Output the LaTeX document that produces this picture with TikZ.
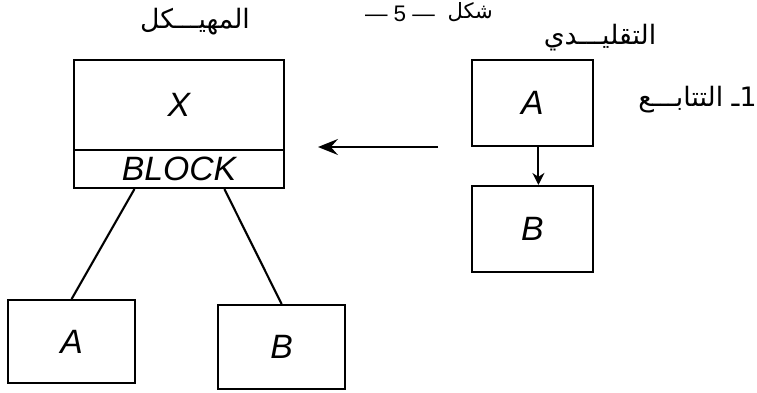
\documentclass[tikz,border=0pt]{standalone}
\usepackage{fontspec}
\setmainfont{Liberation Sans}
\newfontfamily\arabicfont[Script=Arabic]{DejaVu Sans}
\TeXXeTstate=1
\usetikzlibrary{arrows.meta,calc}

\tikzset{
    box/.style={draw, rectangle, line width=1.5pt, inner sep=0pt,
        font=\fontsize{24}{28}\selectfont\itshape},
    link/.style={line width=1.5pt},
    title/.style={font=\arabicfont\fontsize{19}{22}\selectfont, inner sep=0pt}
}

\begin{document}
\begin{tikzpicture}
    \useasboundingbox (0,0) rectangle (18.925,9.8);

    % Caption
    \node[inner sep=0pt, font=\fontsize{16}{18}\selectfont] (capnum) at (10.0,9.45) {— 5 —};
    \node[title, font=\arabicfont\fontsize{15}{17}\selectfont, anchor=west] (caption) at ([xshift=0.3cm, yshift=0.05cm]capnum.east) {\beginR شكل\endR};

    % Structured side
    \node[title] (structtitle) at (4.875,9.25) {\beginR المهيـــكل\endR};
    \node[box, minimum width=5.25cm, minimum height=2.25cm] (xbox) at (4.475,7.175) {X};
    \node[box, minimum width=5.25cm, minimum height=0.95cm, anchor=north] (block) at ([yshift=1.5pt]xbox.south) {BLOCK};

    \node[box, minimum width=3.175cm, minimum height=2.075cm] (childA) at (1.79,1.26) {A};
    \node[box, minimum width=3.175cm, minimum height=2.1cm] (childB) at (7.04,1.125) {B};

    % Connections from the block to its parts
    \draw[link] ($(block.south west)!0.29!(block.south east)$) -- (childA.north);
    \draw[link] ($(block.south west)!0.714!(block.south east)$) -- (childB.north);

    % Traditional side
    \node[title] (tradtitle) at (15.0,8.85) {\beginR التقليـــدي\endR};
    \node[box, minimum width=3.025cm, minimum height=2.15cm] (seqA) at (13.31,7.225) {A};
    \node[box, minimum width=3.025cm, minimum height=2.15cm] (seqB) at (13.31,4.075) {B};
    \node[title, anchor=east] (seqlabel) at (18.92,7.3) {\beginR 1ـ التتابـــع\endR};

    \draw[link, -{Stealth[length=3mm, width=3mm]}] ([xshift=0.15cm]seqA.south) -- ([xshift=0.15cm]seqB.north);

    % Mapping arrow
    \coordinate (mapfrom) at (10.95,6.125);
    \coordinate (mapto) at (7.95,6.125);
    \draw[link, -{Stealth[length=5mm, width=4mm, inset=1.8mm]}] (mapfrom) -- (mapto);
\end{tikzpicture}
\end{document}
